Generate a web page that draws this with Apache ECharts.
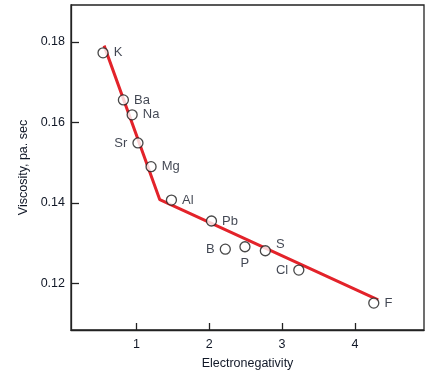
<!DOCTYPE html>
<html><head><meta charset="utf-8">
<script src="https://cdn.jsdelivr.net/npm/echarts@6/dist/echarts.min.js"></script>
<style>html,body{margin:0;padding:0;background:#fff}#c{width:435px;height:375px}</style>
</head><body><div id="c"></div>
<script>
const elements = ['K','Ba','Na','Sr','Mg','Al','Pb','B','P','S','Cl','F'];
const electroneg = [0.54,0.82,0.94,1.02,1.20,1.48,2.03,2.22,2.49,2.77,3.23,4.26];
const viscosity = [0.1773,0.1656,0.1619,0.1549,0.1490,0.1407,0.1355,0.1285,0.1291,0.1281,0.1233,0.1151];
const labelPos = ['right','right','right','left','right','right','right','left','bottom','right','left','right'];
const fitX = [0.555,1.32,4.32];
const fitY = [0.1791,0.1408,0.1159];
const xTicks = [1,2,3,4];
const yTicks = [0.12,0.14,0.16,0.18];

const font = 'Liberation Sans, Arial, sans-serif';
const txt = '#111827';
const chart = echarts.init(document.getElementById('c'));
const scatterData = elements.map((n,i)=>{
  const d = {value:[electroneg[i],viscosity[i]], name:n, label:{position:labelPos[i]}};
  if(n==='S') d.label.offset=[0,-6];
  return d;
});
chart.setOption({
  animation:false,
  grid:{left:71,top:5,right:11,bottom:42,show:true,borderColor:'#222',borderWidth:1.3,backgroundColor:'transparent'},
  xAxis:{type:'value',min:0.1,max:4.95,
    name:'Electronegativity',nameLocation:'middle',nameGap:27,
    nameTextStyle:{fontFamily:font,fontSize:12.5,color:txt},
    axisLine:{show:true,lineStyle:{color:'#222',width:1.3}},
    axisTick:{show:true,inside:true,length:7,customValues:xTicks,lineStyle:{color:'#222',width:1.3}},
    axisLabel:{customValues:xTicks,margin:8,fontFamily:font,fontSize:12.5,color:txt},
    splitLine:{show:false}},
  yAxis:{type:'value',min:0.1084,max:0.1892,
    name:'Viscosity, pa. sec',nameLocation:'middle',nameGap:40,nameRotate:90,
    nameTextStyle:{fontFamily:font,fontSize:12.5,color:txt},
    axisLine:{show:true,lineStyle:{color:'#222',width:1.3}},
    axisTick:{show:true,inside:true,length:8,customValues:yTicks,lineStyle:{color:'#222',width:1.3}},
    axisLabel:{customValues:yTicks,margin:6,fontFamily:font,fontSize:12.5,color:txt,formatter:v=>v.toFixed(2)},
    splitLine:{show:false}},
  series:[
    {type:'line',data:fitX.map((x,i)=>[x,fitY[i]]),symbol:'none',z:2,
      lineStyle:{color:'#e3232a',width:3}},
    {type:'scatter',data:scatterData,symbol:'circle',symbolSize:10,z:3,
      itemStyle:{color:'#fff',borderColor:'#1a1a1a',borderWidth:1.3},
      label:{show:true,formatter:p=>p.name,distance:5,fontFamily:font,fontSize:13,color:txt}}
  ]
});
</script></body></html>
